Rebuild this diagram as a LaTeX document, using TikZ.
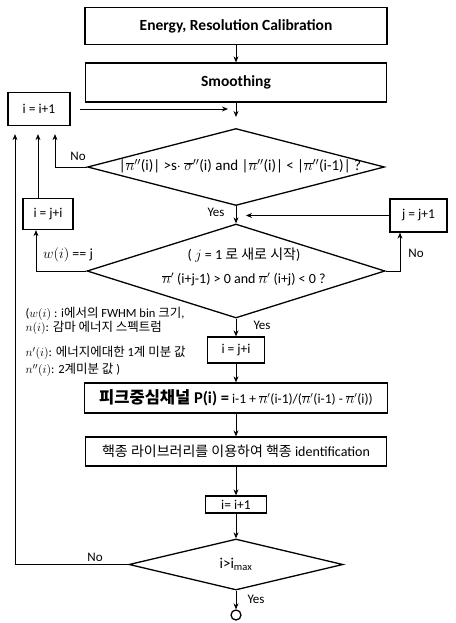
\documentclass[tikz,border=0pt]{standalone}
\usepackage{fontspec}
\setmainfont{Carlito}
\newfontfamily\kr{Noto Sans CJK KR}
\usetikzlibrary{shapes.geometric,arrows.meta}
\begin{document}
\begin{tikzpicture}[x=1pt,y=-1pt,font=\fontsize{13}{15}\selectfont,
	bx/.style={draw,line width=1.3pt,inner sep=0pt},
	dm/.style={draw,diamond,line width=1.3pt,inner sep=0pt},
	ar/.style={line width=0.8pt,-{Stealth[length=6pt,width=5pt]}}]
	\useasboundingbox (0,0) rectangle (455,623);
	\node[bx,minimum width=302pt,minimum height=37pt,font=\bfseries\fontsize{15.5}{18}\selectfont] (b1) at (236,26) {Energy, Resolution Calibration};
	\node[bx,minimum width=301pt,minimum height=39pt,font=\bfseries\fontsize{15.5}{18}\selectfont] (b2) at (236,82.5) {Smoothing};
	\node[bx,minimum width=62pt,minimum height=33pt,font=\fontsize{13.5}{16}\selectfont] (c1) at (39,109) {i = i+1};
	\node[dm,minimum width=297pt,minimum height=77pt] (d1) at (236,167) {};
	\node[font=\fontsize{15}{18}\selectfont] (t1) at (240,166) {|$\overline{n}''$(i)| >s$\cdot$ $\overline{\sigma}''$(i) and |$\overline{n}''$(i)| < |$\overline{n}''$(i-1)| ?};
	\node[bx,minimum width=50pt,minimum height=31pt,font=\fontsize{13.5}{16}\selectfont] (c2) at (48,214) {i = j+i};
	\node[bx,minimum width=57pt,minimum height=33pt,font=\fontsize{13.5}{16}\selectfont] (c3) at (418.5,215.5) {j = j+1};
	\node[dm,minimum width=298pt,minimum height=94pt] (d2) at (236,271) {};
	\node[align=center,font=\fontsize{14}{17}\selectfont] (t2) at (244,267) {( $j$ = 1 {\kr 로 새로 시작})\\[7pt] $\overline{n}'$ (i+j-1) > 0 and $\overline{n}'$ (i+j) < 0 ?};
	\node[anchor=west,font=\fontsize{12.5}{12.5}\selectfont,align=left] (n1) at (22,321) {($w(i)$ : i{\kr 에서의} FWHM bin {\kr 크기},\\ $n(i)$: {\kr 감마 에너지 스펙트럼}};
	\node[anchor=west,font=\fontsize{12.5}{17}\selectfont,align=left] (n2) at (22,361.5) {$n'(i)$: {\kr 에너지에대한} 1{\kr 계 미분 값}\\$n''(i)$: 2{\kr 계미분 값} )};
	\node[bx,minimum width=57pt,minimum height=26pt,font=\fontsize{13.5}{16}\selectfont] (c4) at (236,350) {i = j+i};
	\node[bx,minimum width=303pt,minimum height=30pt,font=\fontsize{13.5}{15}\selectfont] (b3) at (236,398) {{\fontsize{16.5}{18}\selectfont\bfseries{\kr 피크중심채널} P(i) =} i-1 + $\overline{n}'$(i-1)/($\overline{n}'$(i-1) - $\overline{n}'$(i))};
	\node[bx,minimum width=301pt,minimum height=29pt,font=\fontsize{14}{16}\selectfont] (b4) at (236,451.5) {{\kr 핵종 라이브러리를 이용하여 핵종} identification};
	\node[bx,minimum width=61pt,minimum height=17pt,font=\fontsize{13.5}{16}\selectfont] (c5) at (236,504.5) {i= i+1};
	\node[dm,minimum width=214pt,minimum height=51pt,font=\fontsize{15}{17}\selectfont] (d3) at (236,564.5) {i>i\textsubscript{max}};
	\node[circle,draw,line width=1.3pt,minimum size=10pt,inner sep=0pt] (e) at (236,615) {};
	\node (l1) at (78,156) {No};
	\node (l2) at (216,212) {Yes};
	\node[font=\fontsize{14}{16}\selectfont] (l3) at (68,255) {$w(i)$ == j};
	\node (l4) at (416,253) {No};
	\node (l5) at (262,325) {Yes};
	\node (l6) at (95,557) {No};
	\node (l7) at (256,599) {Yes};
	\coordinate (j1) at (236,117);
	\coordinate (j2) at (228,0);
	\coordinate (j3) at (246,215.5);
	\draw[ar] (b1) -- (b2);
	\draw[ar] (b2) -- (j1);
	\draw[ar] ([xshift=9pt]c1.east) -- (c1.east -| j2);
	\draw[ar] (d1.west) -| ([xshift=16pt,yshift=-8pt]c1.south);
	\draw[ar] (d1) -- (d2);
	\draw[ar] ([xshift=-10pt]c2.north) -- ([xshift=-1pt,yshift=-8pt]c1.south);
	\draw[ar] (d2.west) -| ([xshift=-12pt]c2.south);
	\draw[ar] (d2.east) -| ([xshift=-18.5pt]c3.south);
	\draw[ar] (c3) -- (j3);
	\draw[ar] (d2) -- (c4);
	\draw[ar] (c4) -- (b3);
	\draw[ar] (b3) -- (b4);
	\draw[ar] (b4) -- (c5);
	\draw[ar] (c5) -- (d3);
	\draw[ar] (d3.west) -| ([xshift=-24pt,yshift=-8pt]c1.south);
	\draw[ar] (d3) -- (e);
\end{tikzpicture}
\end{document}
